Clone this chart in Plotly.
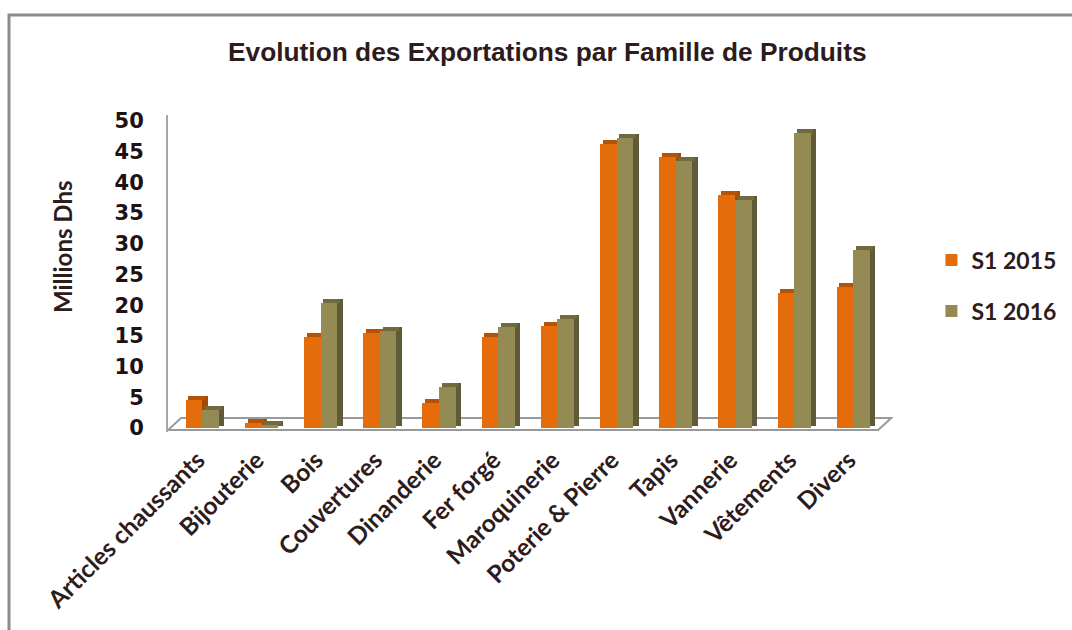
import plotly.graph_objects as go

categories = ["Articles chaussants", "Bijouterie", "Bois", "Couvertures", "Dinanderie",
              "Fer forgé", "Maroquinerie", "Poterie & Pierre", "Tapis", "Vannerie",
              "Vêtements", "Divers"]
s1_2015 = [4.5, 0.8, 14.8, 15.4, 4.0, 14.8, 16.6, 46.2, 44.1, 37.9, 22.0, 22.9]
s1_2016 = [3.0, 0.5, 20.3, 15.8, 6.7, 16.4, 17.8, 47.2, 43.5, 37.2, 48.0, 29.0]
series_names = ["S1 2015", "S1 2016"]
y_ticks = [0, 5, 10, 15, 20, 25, 30, 35, 40, 45, 50]

xpos = list(range(len(categories)))

# styling / 3D geometry (category units and value units)
FRONT_W = 0.28
DX = 0.09
DY = 0.65
ORANGE, ORANGE_TOP, ORANGE_SIDE = "#E46C0A", "#B45206", "#A24A06"
OLIVE, OLIVE_TOP, OLIVE_SIDE = "#948A54", "#716A40", "#5F5A37"
TXT = "#2E1B1B"

fig = go.Figure()


def add_series(vals, name, off, c_front, c_top, c_side):
    # side face
    fig.add_trace(go.Bar(x=xpos, y=[v + DY * 0.5 for v in vals], base=DY * 0.5,
                         width=DX, offset=off + FRONT_W, marker=dict(color=c_side, line=dict(width=0)),
                         showlegend=False, hoverinfo="skip"))
    # top face
    fig.add_trace(go.Bar(x=xpos, y=[DY] * len(vals), base=vals,
                         width=FRONT_W, offset=off + DX * 0.5, marker=dict(color=c_top, line=dict(width=0)),
                         showlegend=False, hoverinfo="skip"))
    # front face
    fig.add_trace(go.Bar(x=xpos, y=vals, width=FRONT_W, offset=off, name=name,
                         marker=dict(color=c_front, line=dict(width=0)),
                         legendgroup=name))


add_series(s1_2015, series_names[0], -0.20, ORANGE, ORANGE_TOP, ORANGE_SIDE)
add_series(s1_2016, series_names[1], 0.08, OLIVE, OLIVE_TOP, OLIVE_SIDE)

fig.update_layout(
    width=1072, height=630,
    margin=dict(l=168, r=179, t=115, b=198, autoexpand=False),
    paper_bgcolor="white", plot_bgcolor="white",
    barmode="overlay", bargap=0,
    showlegend=True,
    legend=dict(x=1.053, y=0.61, xanchor="left", yanchor="top",
                font=dict(family="Lato", size=23, color=TXT, weight="bold"),
                tracegroupgap=18, bgcolor="rgba(0,0,0,0)"),
    xaxis=dict(range=[-0.5, 11.75], tickmode="array", tickvals=xpos, ticktext=categories,
               tickangle=-45, showgrid=False, zeroline=False, showline=False, ticks="",
               ticklabelstandoff=8, automargin=False,
               tickfont=dict(family="Lato", size=24.5, color=TXT, weight="bold")),
    yaxis=dict(range=[-0.65, 50.98], tickmode="array", tickvals=y_ticks,
               showgrid=False, zeroline=False, showline=True, linecolor="#A6A6A6", linewidth=2,
               ticks="", ticklabelstandoff=18, automargin=False,
               tickfont=dict(family="DejaVu Sans", size=21, color="#1E1212", weight="bold")),
    shapes=[
        dict(type="path", xref="x", yref="y", layer="below",
             path="M -0.5,-0.33 L 11.5,-0.33 L 11.72,1.63 L -0.28,1.63 Z",
             line=dict(color="#9A9A9A", width=2), fillcolor="rgba(0,0,0,0)"),
        dict(type="rect", xref="paper", yref="paper", x0=-0.2193, x1=1.3, y0=-1.0, y1=1.3155,
             line=dict(color="#8C8C8C", width=3), fillcolor="rgba(0,0,0,0)", layer="above"),
    ],
    annotations=[
        dict(text="Evolution des Exportations par Famille de Produits", xref="paper", yref="paper",
             x=0.523, y=1.199, showarrow=False, xanchor="center", yanchor="middle",
             font=dict(family="Liberation Sans", size=26.3, color=TXT, weight="bold")),
        dict(text="Millions Dhs", xref="paper", yref="paper", x=-0.1448, y=0.5836,
             textangle=-90, showarrow=False, xanchor="center", yanchor="middle",
             font=dict(family="Lato", size=24, color=TXT, weight="bold")),
    ],
)

fig.write_html("out.html", config={"displayModeBar": False},
               post_script="document.body.style.margin='0';")
